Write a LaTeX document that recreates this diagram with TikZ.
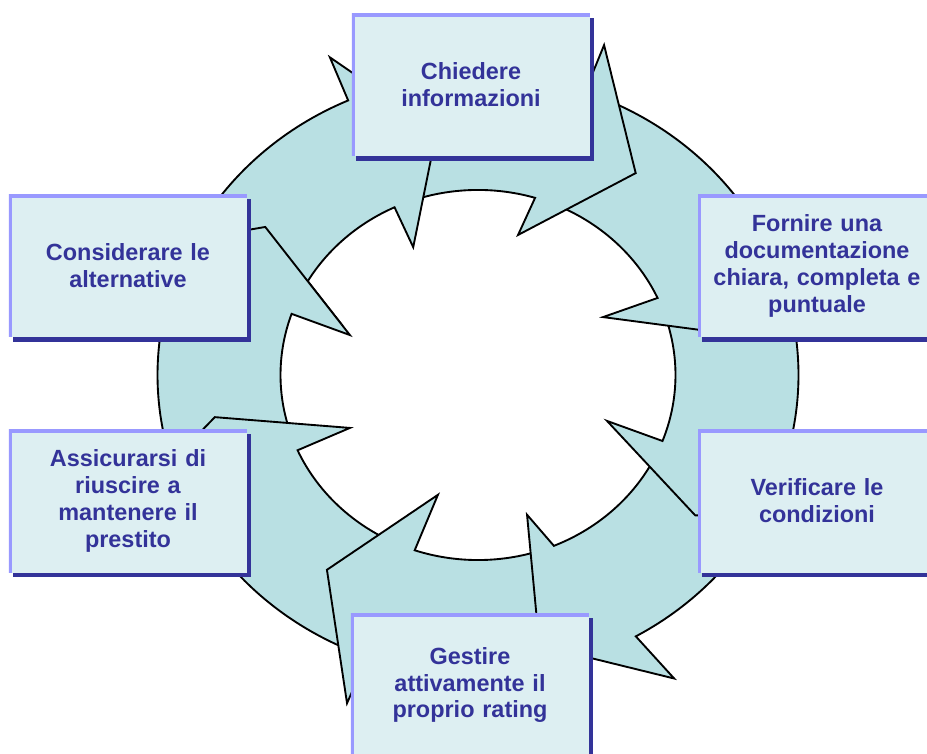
\documentclass[tikz,border=0pt]{standalone}
\usepackage{fontspec}
\setmainfont{Liberation Sans}
\usetikzlibrary{shadows}

\definecolor{ringfill}{RGB}{185,224,227}
\definecolor{boxfill}{RGB}{221,239,242}
\definecolor{boxlight}{RGB}{153,153,255}
\definecolor{boxdark}{RGB}{51,51,153}

\tikzset{
  ring/.style={fill=ringfill, draw=black, line width=1.6pt, line join=miter},
  stage/.style={fill=boxfill, minimum width=7.14cm, minimum height=4.29cm,
    inner sep=0pt, text width=6.9cm, align=center, text=boxdark,
    font=\fontsize{20}{23}\selectfont\bfseries,
    general shadow={fill=boxdark, shadow xshift=0.13cm, shadow yshift=-0.13cm},
    path picture={\draw[boxlight, line width=0.2cm]
      (path picture bounding box.south west) -- (path picture bounding box.north west)
      -- (path picture bounding box.north east);}}
}

\begin{document}
\begin{tikzpicture}[x=0.03cm, y=0.03cm]
  \useasboundingbox (0,0) rectangle (927,753);
  \clip (0,0) rectangle (927,753);

  % eight arrows round the ring, last one first so every head lies on the next tail
  % tail / inner end / outer end / outer barb / tip / inner barb
  \begin{scope}[shift={(478,378)}, yscale=0.937]
    \foreach \tl/\ia/\oa/\ob/\rob/\tp/\rtp/\ib/\rib in
      {201/160.7/159.5/159/372/143.4/265/161.6/135,
       248.5/204/202.5/201.5/372/189.7/267/203.8/140,
       291.7/251.3/249.8/249.5/374/234/257/252.6/134,
       336/292.6/299.5/301.2/378.7/282/295/288.2/157,
       381.5/339.1/338/337/372/325.4/264/339.2/138,
       70/24.6/23.5/23.8/372/9.3/264/26.3/139.5,
       112/73.2/70.5/70.3/374/53.8/267/75/154.7,
       157.5/115/113.9/113.6/370/99/264/115.4/151}
      \draw[ring] (\tl:320.5) arc[start angle=\tl, end angle=\oa, radius=320.5]
        -- (\ob:\rob) -- (\tp:\rtp) -- (\ib:\rib) -- (\ia:197.5)
        arc[start angle=\ia, end angle=\tl, radius=197.5] -- cycle;
    % head of the last arrow once more, over the tail of the first
    \begin{scope}
      \clip (0,0) -- (158.5:420) arc[start angle=158.5, end angle=125, radius=420] -- cycle;
      \draw[ring] (201:320.5) arc[start angle=201, end angle=159.5, radius=320.5]
        -- (159:372) -- (143.4:265) -- (161.6:135) -- (160.7:197.5)
        arc[start angle=160.7, end angle=201, radius=197.5] -- cycle;
    \end{scope}
  \end{scope}

  \node[stage] (chiedere) at (471,668) {Chiedere\\informazioni};
  \node[stage] (fornire) at (817,487) {Fornire una\\documentazione\\chiara, completa e\\puntuale};
  \node[stage] (verificare) at (817,252) {Verificare le\\condizioni};
  \node[stage] (gestire) at (470,68) {Gestire\\attivamente il\\proprio rating};
  \node[stage] (assicurarsi) at (128,252) {Assicurarsi di\\riuscire a\\mantenere il\\prestito};
  \node[stage] (considerare) at (128,487) {Considerare le\\alternative};
\end{tikzpicture}
\end{document}
